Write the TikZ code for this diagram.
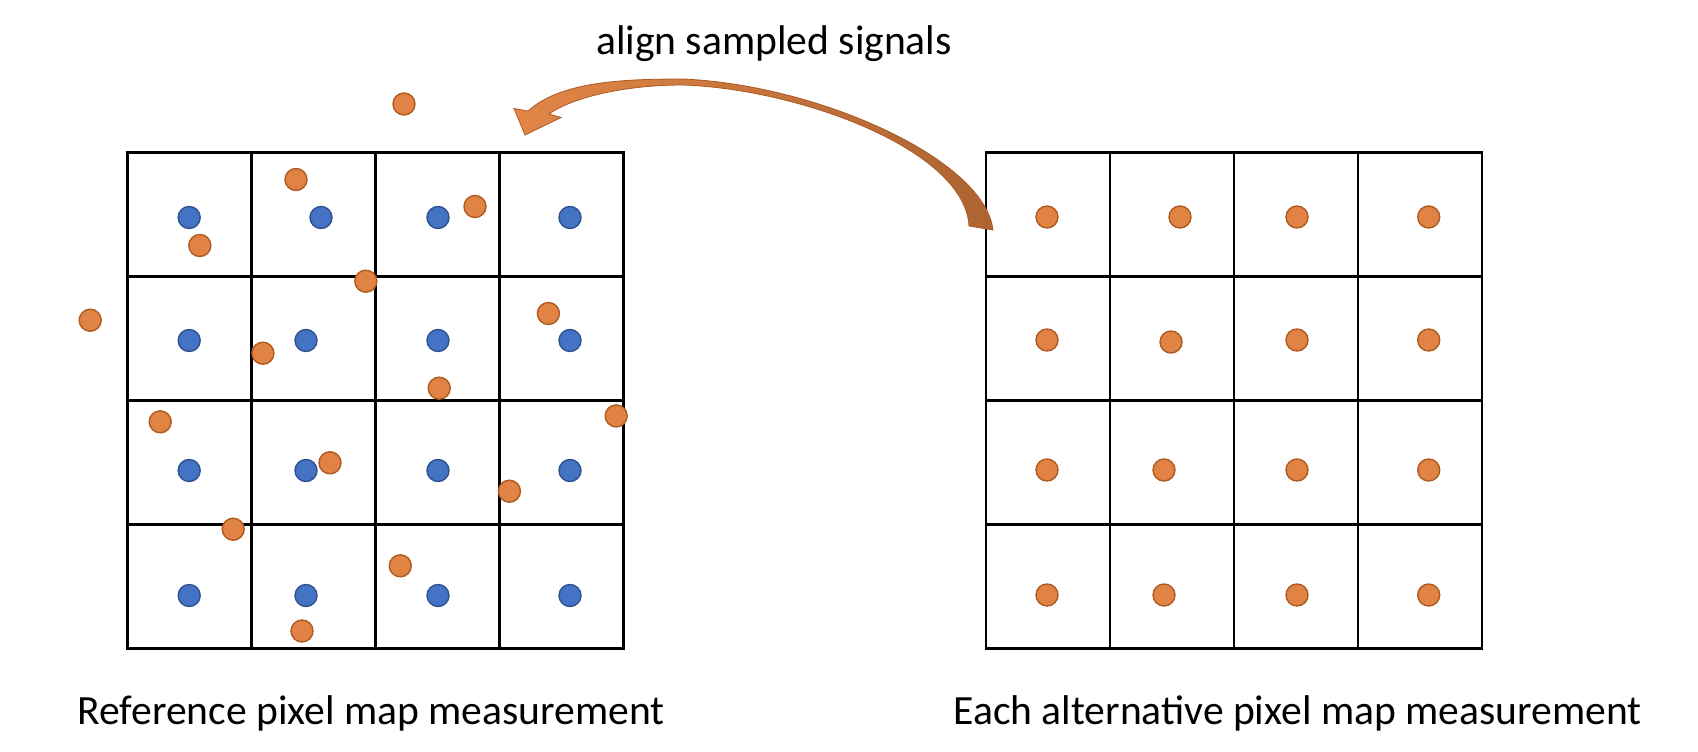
\documentclass[tikz,border=0pt]{standalone}
\usepackage{fontspec}
\setmainfont{Carlito}
\definecolor{blueF}{RGB}{68,114,196}
\definecolor{blueD}{RGB}{47,82,143}
\definecolor{orF}{RGB}{225,131,68}
\definecolor{orD}{RGB}{174,90,33}
\definecolor{arrL}{RGB}{226,134,72}
\definecolor{arrR}{RGB}{172,100,50}
\tikzset{
  cell/.style={rectangle, draw=black, line width=2.2pt, minimum size=124pt, inner sep=0pt, outer sep=0pt},
  bdot/.style={circle, fill=blueF, draw=blueD, line width=1.4pt, minimum size=22pt, inner sep=0pt},
  odot/.style={circle, fill=orF, draw=orD, line width=1.4pt, minimum size=22pt, inner sep=0pt},
  lbl/.style={font=\fontsize{41.6}{50}\selectfont, anchor=base, inner sep=0pt},
  bigarrow/.style={draw=orD, line width=0.8pt, left color=arrL, right color=arrR},
}
\begin{document}
\begin{tikzpicture}[x=1pt,y=-1pt]
\useasboundingbox[fill=white] (0,0) rectangle (1698,752);
% grids
\foreach \i in {0,...,3}{
  \foreach \j in {0,...,3}{
    \node[cell] (L\i\j) at ({189.5+124*\i},{214.5+124*\j}) {};
    \node[cell] (R\i\j) at ({1048+124*\i},{214.5+124*\j}) {};
  }
}
% blue dots (reference)
\foreach \y [count=\r] in {217.5,340.5,470.5,595.5}{
  \node[bdot] (b1\r) at (189.2,\y) {};
  \node[bdot] (b3\r) at (438,\y) {};
  \node[bdot] (b4\r) at (570,\y) {};
}
\node[bdot] (b21) at (321,217.5) {};
\node[bdot] (b22) at (306,340.5) {};
\node[bdot] (b23) at (306,470.5) {};
\node[bdot] (b24) at (306,595.5) {};
% orange dots (reference, scattered)
\node[odot] (o1) at (404,104) {};
\node[odot] (o2) at (296,179.5) {};
\node[odot] (o3) at (199.8,245.5) {};
\node[odot] (o4) at (475,206.5) {};
\node[odot] (o5) at (365.8,281.2) {};
\node[odot] (o6) at (90.2,320.2) {};
\node[odot] (o7) at (548.4,313.5) {};
\node[odot] (o8) at (262.9,353.2) {};
\node[odot] (o9) at (439.2,388.2) {};
\node[odot] (o10) at (160.2,421.8) {};
\node[odot] (o11) at (616.2,415.9) {};
\node[odot] (o12) at (330,462.8) {};
\node[odot] (o13) at (509.4,491.2) {};
\node[odot] (o14) at (233.2,529.2) {};
\node[odot] (o15) at (400.3,565.8) {};
\node[odot] (o16) at (302,631) {};
% orange dots (alternative)
\foreach \y [count=\r] in {217,340,470,595}{
  \node[odot] (a1\r) at (1047,\y) {};
  \node[odot] (a3\r) at (1297,\y) {};
  \node[odot] (a4\r) at (1428.7,\y) {};
}
\node[odot] (a21) at (1180,217) {};
\node[odot] (a22) at (1171,342) {};
\node[odot] (a23) at (1164,470) {};
\node[odot] (a24) at (1164,595) {};
% curved arrow
\coordinate (tailO) at (993,230);
\coordinate (tailI) at (969,226);
\coordinate (topO) at (683,79);
\coordinate (topI) at (683,85);
\coordinate (headO) at (528,111);
\coordinate (barbL) at (514,108.5);
\coordinate (tip) at (525,135);
\coordinate (barbR) at (561,117.5);
\coordinate (notch) at (549,114);
\path[bigarrow] (tailO) .. controls (985,160) and (820,85) .. (topO)
  .. controls (620,79) and (560,82) .. (headO) -- (barbL) -- (tip) -- (barbR) -- (notch)
  .. controls (570,99) and (620,85) .. (topI)
  .. controls (800,89) and (965,150) .. (tailI) -- cycle;
% labels
\node[lbl] (t1) at (774,54.5) {align sampled signals};
\node[lbl] (t2) at (371,724.5) {Reference pixel map measurement};
\node[lbl] (t3) at (1297.5,724.5) {Each alternative pixel map measurement};
\end{tikzpicture}
\end{document}
